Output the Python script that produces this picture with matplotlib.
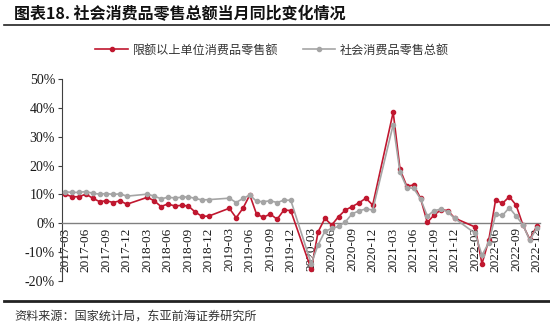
import matplotlib
matplotlib.use("Agg")
import matplotlib.pyplot as plt
from matplotlib.lines import Line2D
import numpy as np

plt.rcParams['font.family'] = ['Noto Sans CJK SC', 'DejaVu Sans']

# Months with data (Jan/Feb not reported separately)
months = []
for y in range(2017, 2023):
    for m in range(3, 13):
        months.append(f"{y}-{m:02d}")

# 限额以上单位消费品零售额 (%), red
above_limit = [
    10.0, 9.2, 9.2, 10.1, 8.7, 7.5, 7.8, 7.2, 7.8, 6.6,      # 2017
    9.0, 7.8, 5.8, 6.7, 6.0, 6.2, 6.0, 3.9, 2.4, 2.5,        # 2018
    5.2, 1.9, 5.2, 9.8, 3.1, 2.1, 3.2, 1.4, 4.6, 4.4,        # 2019
    -16.0, -3.0, 1.7, -0.6, 2.3, 4.6, 5.8, 7.1, 8.7, 6.3,    # 2020
    38.5, 18.7, 12.8, 13.3, 8.7, 0.3, 2.9, 4.7, 4.4, 1.8,    # 2021
    -1.3, -14.1, -5.8, 8.1, 6.9, 9.2, 6.3, -0.6, -5.6, -1.1, # 2022
]
# 社会消费品零售总额 (%), gray
total = [
    10.9, 10.7, 10.7, 11.0, 10.4, 10.1, 10.3, 10.0, 10.2, 9.4,
    10.1, 9.4, 8.5, 9.0, 8.8, 9.0, 9.2, 8.6, 8.1, 8.2,
    8.7, 7.2, 8.6, 9.8, 7.6, 7.5, 7.8, 7.2, 8.0, 8.0,
    -14.0, -7.5, -2.8, -1.8, -1.1, 0.5, 3.3, 4.3, 5.0, 4.6,
    34.2, 17.7, 12.4, 12.1, 8.5, 2.5, 4.4, 4.9, 3.9, 1.7,
    -3.5, -11.1, -6.7, 3.1, 2.7, 5.4, 2.5, -0.5, -5.9, -1.8,
]
series_names = ["限额以上单位消费品零售额", "社会消费品零售总额"]
tick_months = [m for m in months if m[5:] in ("03", "06", "09", "12")]
yticks = [-20, -10, 0, 10, 20, 30, 40, 50]

def pos(label):
    y, m = int(label[:4]), int(label[5:])
    return (y - 2017) * 12 + (m - 3)

x = np.array([pos(m) for m in months])
red = "#C0172F"
gray = "#A5A5A5"

fig = plt.figure(figsize=(5.5, 3.22), dpi=100)
ax = fig.add_axes([62/550, 1-281/322, (540-62)/550, (281-79)/322])

ax.plot(x, above_limit, color=red, lw=1.2, marker='o', ms=3.0, mec=red, mfc=red, zorder=3)
ax.plot(x, total, color=gray, lw=1.2, marker='o', ms=3.0, mec=gray, mfc=gray, zorder=4)

ax.set_xlim(-0.5, 69.5)
ax.set_ylim(-20, 50)
ax.set_yticks(yticks)
ax.set_yticklabels([f"{v}%" for v in yticks], family='Liberation Serif', fontsize=10)

ax.spines['top'].set_visible(False)
ax.spines['right'].set_visible(False)
ax.spines['bottom'].set_position(('data', 0))
ax.spines['bottom'].set_color('#808080')
ax.spines['bottom'].set_linewidth(1.0)
ax.spines['left'].set_color('#404040')
ax.spines['left'].set_linewidth(0.8)
ax.tick_params(axis='y', direction='out', length=3, width=0.8, color='#404040', pad=2, labelcolor='#1a1a1a')

ax.set_xticks([pos(m) for m in tick_months])
ax.set_xticklabels(tick_months, rotation=90, family='Liberation Serif', fontsize=9.5, color='#1a1a1a')
ax.tick_params(axis='x', length=0, pad=3)
for lbl in ax.get_xticklabels():
    lbl.set_zorder(1)

# Legend
handles = [Line2D([], [], color=red, lw=1.2, marker='o', ms=3.0),
           Line2D([], [], color=gray, lw=1.2, marker='o', ms=3.0)]
fig.legend(handles, series_names, loc='center', bbox_to_anchor=(0.495, 1-50/322), ncol=2,
           frameon=False, fontsize=8.7, handlelength=2.7, handletextpad=0.4, columnspacing=2.0,
           labelcolor='#333333')

# Title and rules
fig.text(14/550, 1-14/322, "图表18. 社会消费品零售总额当月同比变化情况", fontsize=11.5,
         fontweight='bold', va='center', ha='left', color='#111111')
fig.add_artist(Line2D([4/550, 1.0], [1-25/322, 1-25/322], color='#222222', lw=1.2))
fig.add_artist(Line2D([4/550, 1.0], [1-301/322, 1-301/322], color='#222222', lw=2.0))
fig.text(14/550, 1-316/322, "资料来源：国家统计局，东亚前海证券研究所", fontsize=8.7,
         va='center', ha='left', color='#333333')

fig.savefig("out.png", dpi=100)
